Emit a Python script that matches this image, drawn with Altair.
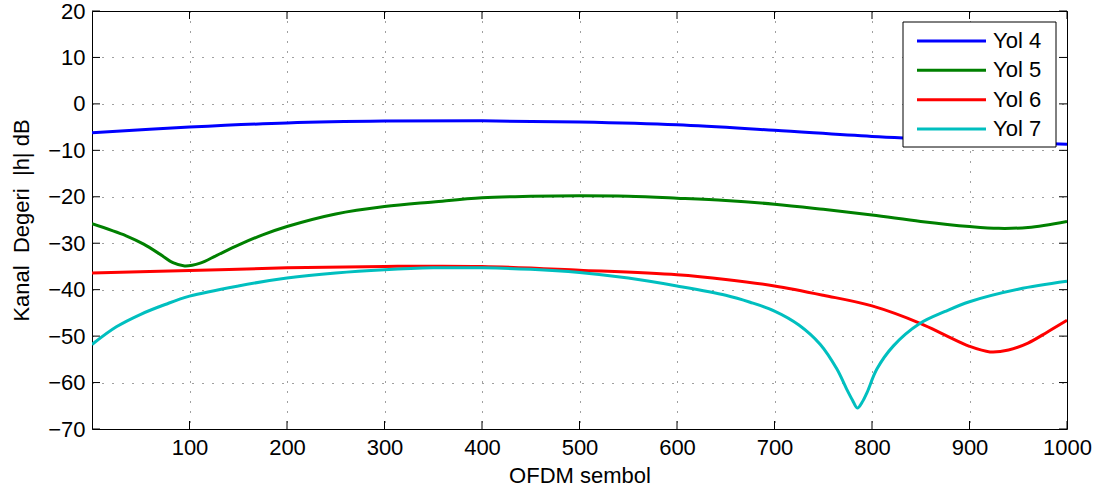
import altair as alt
import pandas as pd

series = ["Yol 4", "Yol 5", "Yol 6", "Yol 7"]
colors = ["#0000ff", "#008000", "#ff0000", "#00bfbf"]

x_ticks = [100, 200, 300, 400, 500, 600, 700, 800, 900, 1000]
y_ticks = [-70, -60, -50, -40, -30, -20, -10, 0, 10, 20]

yol4_x = [0, 100, 200, 300, 400, 500, 600, 700, 800, 900, 1000]
yol4_y = [-6.2, -5.0, -4.1, -3.7, -3.65, -3.9, -4.5, -5.7, -7.0, -7.9, -8.7]

yol5_x = [0, 35, 53, 70, 83, 95, 111, 128, 150, 175, 200, 250, 300, 350, 400, 450, 500,
          550, 600, 650, 700, 750, 800, 850, 900, 930, 960, 1000]
yol5_y = [-25.8, -28.4, -30.2, -32.4, -34.2, -34.9, -34.3, -32.6, -30.4, -28.2, -26.4,
          -23.7, -22.1, -21.1, -20.2, -19.9, -19.8, -19.9, -20.3, -20.8, -21.6, -22.7,
          -23.9, -25.3, -26.4, -26.8, -26.6, -25.3]

yol6_x = [0, 100, 200, 300, 400, 500, 600, 650, 700, 750, 800, 850, 875, 900, 921,
          940, 960, 980, 1000]
yol6_y = [-36.4, -35.9, -35.3, -35.0, -35.0, -35.8, -36.8, -37.8, -39.2, -41.2, -43.5,
          -47.3, -49.8, -52.2, -53.4, -53.0, -51.5, -49.1, -46.6]

yol7_x = [0, 25, 50, 75, 100, 150, 200, 250, 300, 350, 400, 450, 500, 550, 600, 650,
          675, 700, 725, 747, 764, 774, 780, 785, 790, 795, 805, 822, 849, 875, 900, 950,
          1000]
yol7_y = [-51.8, -48.0, -45.3, -43.2, -41.4, -39.2, -37.5, -36.4, -35.7, -35.3, -35.3,
          -35.6, -36.3, -37.5, -39.2, -41.2, -42.7, -44.6, -47.6, -51.8, -57.1, -61.4,
          -63.8, -65.5, -64.2, -62.1, -57.1, -52.1, -47.3, -44.7, -42.6, -39.9, -38.2]

rows = []
for name, xs_, ys_ in zip(series, [yol4_x, yol5_x, yol6_x, yol7_x],
                          [yol4_y, yol5_y, yol6_y, yol7_y]):
    for a, b in zip(xs_, ys_):
        rows.append({"x": a, "y": b, "s": name})
df = pd.DataFrame(rows)

W, H = 975, 418
TICK = 8
FONT = "Liberation Sans"
FS = 22

xs = alt.Scale(domain=[0, 1000], nice=False, zero=False)
ys = alt.Scale(domain=[-70, 20], nice=False, zero=False)
color_scale = alt.Scale(domain=series, range=colors)

axis_style = dict(ticks=False, domain=False, grid=True, gridDash=[1, 9],
                  gridColor="#000000", gridOpacity=0.75, labelFlush=False,
                  labelFont=FONT, labelFontSize=FS, labelColor="black",
                  titleFont=FONT, titleFontSize=FS, titleColor="black",
                  titleFontWeight="normal", format="d")

xaxis = alt.Axis(values=x_ticks, title="OFDM sembol", labelPadding=8, titlePadding=7,
                 **axis_style)
yaxis = alt.Axis(values=y_ticks, title="Kanal\u00a0 Degeri\u00a0 |h| dB", labelPadding=7,
                 titlePadding=14, **axis_style)

lines = alt.Chart(df).mark_line(strokeWidth=3, interpolate="catmull-rom", clip=True).encode(
    x=alt.X("x:Q", scale=xs, axis=xaxis),
    y=alt.Y("y:Q", scale=ys, axis=yaxis),
    color=alt.Color("s:N", scale=color_scale, legend=None),
)

xt = pd.DataFrame({"v": x_ticks})
yt = pd.DataFrame({"v": y_ticks})

bottom = alt.Chart(xt).mark_rule(color="black", strokeWidth=1).encode(
    x=alt.X("v:Q", scale=xs, axis=xaxis), y=alt.value(H), y2=alt.value(H - TICK))
top = alt.Chart(xt).mark_rule(color="black", strokeWidth=1).encode(
    x=alt.X("v:Q", scale=xs, axis=xaxis), y=alt.value(0), y2=alt.value(TICK))
left = alt.Chart(yt).mark_rule(color="black", strokeWidth=1).encode(
    y=alt.Y("v:Q", scale=ys, axis=yaxis), x=alt.value(0), x2=alt.value(TICK))
right = alt.Chart(yt).mark_rule(color="black", strokeWidth=1).encode(
    y=alt.Y("v:Q", scale=ys, axis=yaxis), x=alt.value(W), x2=alt.value(W - TICK))

plot = alt.layer(bottom, top, left, right, lines)

# hand-built legend box (MATLAB style)
leg_df = pd.DataFrame({"s": series, "row": list(range(len(series)))})
leg_rows = alt.Scale(domain=[0, len(series) - 1], range=[30, 118], nice=False, zero=False)

leg_box = alt.Chart(pd.DataFrame({"k": [0]})).mark_rect(
    fill="white", stroke="black", strokeWidth=1).encode(
    x=alt.value(811), x2=alt.value(964), y=alt.value(11), y2=alt.value(136))
leg_lines = alt.Chart(leg_df).mark_rule(strokeWidth=3).encode(
    x=alt.value(825), x2=alt.value(894),
    y=alt.Y("row:Q", scale=leg_rows, axis=None),
    color=alt.Color("s:N", scale=color_scale, legend=None))
leg_text = alt.Chart(leg_df).mark_text(
    align="left", baseline="middle", font=FONT, fontSize=FS, color="black").encode(
    x=alt.value(901),
    y=alt.Y("row:Q", scale=leg_rows, axis=None),
    text="s:N")

chart = alt.layer(plot, leg_box, leg_lines, leg_text).resolve_scale(
    y="independent"
).properties(
    width=W, height=H,
    background="white",
    autosize=alt.AutoSizeParams(type="none"),
    padding={"left": 92, "top": 11, "right": 43, "bottom": 68},
).configure_view(
    stroke="black", strokeWidth=1
)

chart.save("out.html", embed_options={"renderer": "svg", "actions": False})
